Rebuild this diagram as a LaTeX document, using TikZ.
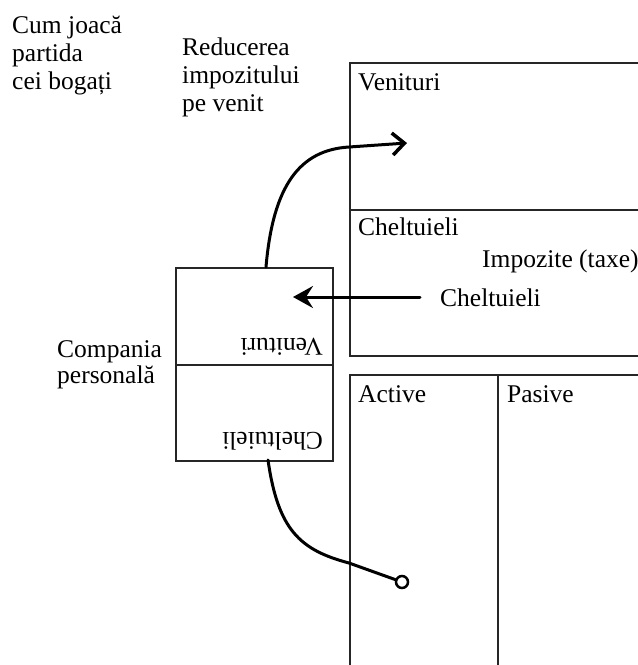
\documentclass[tikz,border=0pt]{standalone}
\usepackage{fontspec}
\setmainfont{Liberation Serif}
\usetikzlibrary{arrows.meta}
\begin{document}
\begin{tikzpicture}[x=1pt,y=-1pt,
  box/.style={draw=black!85,line width=1.5pt,inner sep=0pt,anchor=north west},
  lbl/.style={inner sep=0pt,anchor=base west,align=left,font=\fontsize{25.5}{28}\selectfont},
  conn/.style={line width=3pt,line cap=round}]
\useasboundingbox (0,0) rectangle (638,665);
\clip (0,0) rectangle (638,665);
% right-hand frame
\node[box,minimum width=340pt,minimum height=147pt] (venit) at (349,62) {};
\node[box,minimum width=340pt,minimum height=146pt] (chelt) at (349,209) {};
\node[box,minimum width=148pt,minimum height=330pt] (activ) at (349,374) {};
\node[box,minimum width=300pt,minimum height=330pt] (pasiv) at (497,374) {};
% personal company box
\node[box,minimum width=157pt,minimum height=97pt] (sv) at (175,267) {};
\node[box,minimum width=157pt,minimum height=96pt] (sc) at (175,364) {};
% labels (multi-line labels are placed by the baseline of their last line)
\node[lbl] (cum) at (12,89) {Cum joacă\\partida\\cei bogați};
\node[lbl] (red) at (182,111) {Reducerea\\impozitului\\pe venit};
\node[lbl] (lv) at (358,90) {Venituri};
\node[lbl] (lc) at (358,235) {Cheltuieli};
\node[lbl] (limp) at (482,267) {Impozite (taxe)};
\node[lbl] (lc2) at (440,306) {Cheltuieli};
\node[lbl] (lact) at (358,402) {Active};
\node[lbl] (lpas) at (507,402) {Pasive};
\node[lbl,font=\fontsize{25.5}{26}\selectfont] (comp) at (57,383) {Compania\\personală};
\node[lbl,rotate=180] (uv) at (323,338) {Venituri};
\node[lbl,rotate=180] (uc) at (323,432) {Cheltuieli};
% connectors
\coordinate (s1) at (266,267);
\coordinate (k1) at (349,147);
\coordinate (e1) at (407,143);
\draw[conn,-{Straight Barb[length=12pt,width=22pt,line width=3.5pt]}] (s1) .. controls (273,185) and (300,150) .. (k1) -- (e1);
\coordinate (s2) at (420,297);
\coordinate (e2) at (293,297);
\draw[conn,-{Stealth[length=20pt,width=22pt,inset=7pt]}] (s2) -- (e2);
\node[circle,draw,line width=2.5pt,fill=white,minimum size=12pt,inner sep=0pt] (dot) at (402,582) {};
\coordinate (s3) at (268,460);
\coordinate (k3) at (349,563);
\draw[conn] (s3) .. controls (278,530) and (300,550) .. (k3) -- (dot);
\end{tikzpicture}
\end{document}
